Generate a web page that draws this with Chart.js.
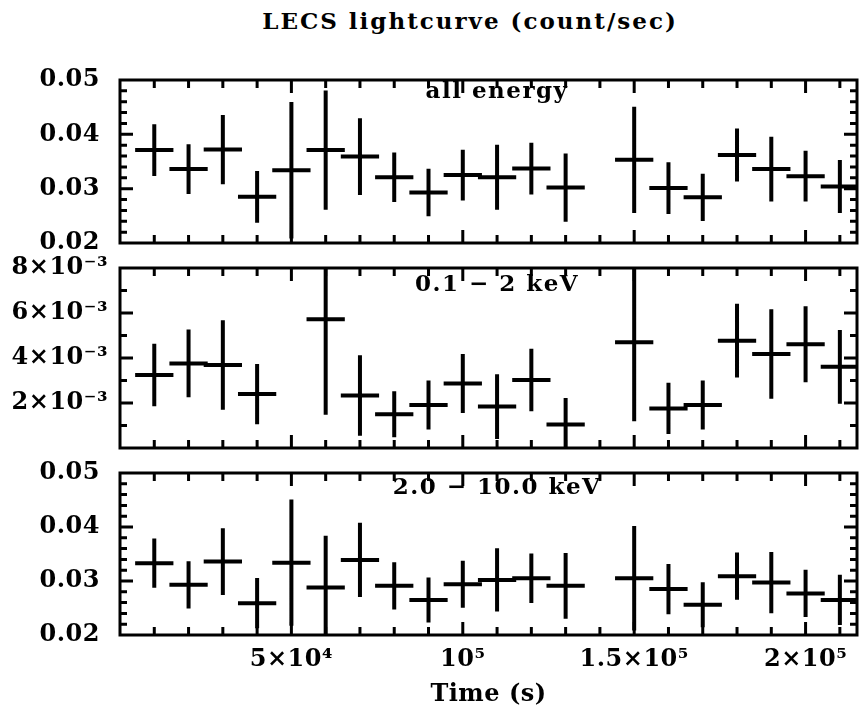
<!DOCTYPE html>
<html>
<head>
<meta charset="utf-8">
<script src="https://cdn.jsdelivr.net/npm/chart.js@4/dist/chart.umd.min.js"></script>
<style>
  body { margin: 0; background: #fff; }
  #wrap { position: relative; width: 864px; height: 720px; overflow: hidden; background: #fff; }
  #wrap canvas { position: absolute; left: 0; }
  .lbl { position: absolute; font: bold 23px "DejaVu Serif", serif; line-height: 23px; letter-spacing: 1.5px;
         color: #000; white-space: nowrap; transform: translateX(-50%); }
</style>
</head>
<body>
<div id="wrap">
  <div class="lbl" style="left:470px; top:9px; letter-spacing:2px;">LECS lightcurve (count/sec)</div>
  <canvas id="allChart" width="864" height="250" style="top:0px"></canvas>
  <canvas id="softChart" width="864" height="200" style="top:250px"></canvas>
  <canvas id="hardChart" width="864" height="270" style="top:450px"></canvas>
  <div class="lbl" style="left:497px; top:78px;">all energy</div>
  <div class="lbl" style="left:497px; top:271px;">0.1 − 2 keV</div>
  <div class="lbl" style="left:497px; top:474px;">2.0 − 10.0 keV</div>
</div>
<script>
// time bin centres (s); bin at 1.4e5 has no data
const timeBins = [10000, 20000, 30000, 40000, 50000, 60000, 70000, 80000, 90000, 100000,
  110000, 120000, 130000, 150000, 160000, 170000, 180000, 190000, 200000, 210000];
const binHalf = 5000;

// all energy
const allRate = [0.0371, 0.0336, 0.0372, 0.0285, 0.0334, 0.0371, 0.0359, 0.0321, 0.0293, 0.0325,
  0.0321, 0.0337, 0.0302, 0.0353, 0.0301, 0.0284, 0.0362, 0.0336, 0.0323, 0.0304];
const allErr = [0.0044, 0.0042, 0.0060, 0.0044, 0.0122, 0.0106, 0.0067, 0.0042, 0.0040, 0.0043,
  0.0056, 0.0044, 0.0059, 0.0094, 0.0044, 0.0040, 0.0045, 0.0056, 0.0043, 0.0045];

// 0.1 - 2 keV
const softRate = [3.24e-3, 3.76e-3, 3.69e-3, 2.40e-3, null, 5.72e-3, 2.33e-3, 1.50e-3, 1.91e-3, 2.87e-3,
  1.84e-3, 3.02e-3, 1.05e-3, 4.70e-3, 1.76e-3, 1.91e-3, 4.77e-3, 4.18e-3, 4.61e-3, 3.61e-3];
const softErr = [1.30e-3, 1.42e-3, 1.90e-3, 1.25e-3, null, 4.15e-3, 1.70e-3, 0.93e-3, 1.00e-3, 1.22e-3,
  1.35e-3, 1.30e-3, 1.08e-3, 3.42e-3, 1.05e-3, 1.00e-3, 1.55e-3, 1.90e-3, 1.60e-3, 1.55e-3];

// 2.0 - 10.0 keV
const hardRate = [0.0333, 0.0293, 0.0336, 0.0259, 0.0334, 0.0288, 0.0339, 0.0291, 0.0265, 0.0294,
  0.0302, 0.0305, 0.0291, 0.0305, 0.0285, 0.0256, 0.0309, 0.0297, 0.0277, 0.0265];
const hardErr = [0.0042, 0.0040, 0.0058, 0.0043, 0.0113, 0.0092, 0.0065, 0.0040, 0.0038, 0.0040,
  0.0055, 0.0042, 0.0057, 0.0093, 0.0043, 0.0038, 0.0040, 0.0053, 0.0040, 0.0043];

// tick labels
const countTicks = [0.02, 0.03, 0.04, 0.05];
const countTickLabels = ['0.02', '0.03', '0.04', '0.05'];
const softTicks = [0.002, 0.004, 0.006, 0.008];
const softTickLabels = ['2×10⁻³', '4×10⁻³', '6×10⁻³', '8×10⁻³'];
const timeTicks = [50000, 100000, 150000, 200000];
const timeTickLabels = ['5×10⁴', '10⁵', '1.5×10⁵', '2×10⁵'];

const FONT = { family: '"DejaVu Serif", serif', weight: 'bold', size: 24 };

// crosses as line segments separated by gaps
function crosses(rate, err) {
  const pts = [];
  timeBins.forEach((t, i) => {
    if (rate[i] == null) return;
    pts.push({ x: t, y: rate[i] - err[i] }, { x: t, y: rate[i] + err[i] }, { x: t, y: null });
    pts.push({ x: t - binHalf, y: rate[i] }, { x: t + binHalf, y: rate[i] }, { x: t + binHalf, y: null });
  });
  return pts;
}

// box frame with inward ticks on all four sides
const frameTicks = {
  id: 'frameTicks',
  beforeDraw(chart) { chart.ctx.letterSpacing = '0.5px'; },
  afterDraw(chart, args, opts) {
    const { ctx, chartArea: a, scales: { x, y } } = chart;
    ctx.save();
    ctx.strokeStyle = '#000';
    ctx.lineWidth = 3;
    ctx.beginPath();
    for (let k = 1; k * 10000 < x.max; k++) {
      const px = x.getPixelForValue(k * 10000);
      const len = k % 5 === 0 ? 13 : 8;
      ctx.moveTo(px, a.top); ctx.lineTo(px, a.top + len);
      ctx.moveTo(px, a.bottom); ctx.lineTo(px, a.bottom - len);
    }
    const n = Math.round((y.max - y.min) / opts.minor);
    const every = Math.round(opts.major / opts.minor);
    for (let k = 1; k < n; k++) {
      const py = y.getPixelForValue(y.min + k * opts.minor);
      const len = k % every === 0 ? 13 : 7;
      ctx.moveTo(a.left, py); ctx.lineTo(a.left + len, py);
      ctx.moveTo(a.right, py); ctx.lineTo(a.right - len, py);
    }
    ctx.stroke();
    ctx.strokeRect(a.left, a.top, a.right - a.left, a.bottom - a.top);
    ctx.restore();
  }
};

function makePanel(id, rate, err, yMin, yMax, yTicks, yLabels, yPad, minor, major, padding, showX) {
  return new Chart(document.getElementById(id), {
    type: 'line',
    data: {
      datasets: [{
        data: crosses(rate, err),
        borderColor: '#000',
        borderWidth: 4,
        borderCapStyle: 'square',
        pointRadius: 0,
        spanGaps: false,
        tension: 0
      }]
    },
    options: {
      responsive: false,
      animation: false,
      layout: { padding: padding },
      plugins: {
        legend: { display: false },
        tooltip: { enabled: false },
        frameTicks: { minor: minor, major: major }
      },
      scales: {
        x: {
          type: 'linear',
          min: 0,
          max: 215000,
          display: showX,
          grid: { display: false, drawTicks: false },
          border: { display: false },
          afterBuildTicks: (s) => { s.ticks = timeTicks.map(v => ({ value: v })); },
          ticks: {
            font: FONT, color: '#000', padding: 10, maxRotation: 0, autoSkip: false,
            callback: (v) => timeTickLabels[timeTicks.indexOf(v)]
          },
          title: { display: true, text: 'Time (s)', font: FONT, color: '#000', padding: { top: 0, bottom: 11 } },
          afterFit: (s) => {
            if (showX) s.height = 85;
            s.paddingLeft = 0; s.paddingRight = 0;
          }
        },
        y: {
          min: yMin,
          max: yMax,
          grid: { display: false, drawTicks: false },
          border: { display: false },
          afterBuildTicks: (s) => { s.ticks = yTicks.map(v => ({ value: v })); },
          ticks: {
            font: FONT, color: '#000', padding: yPad, autoSkip: false,
            callback: (v) => yLabels[yTicks.indexOf(v)]
          },
          afterFit: (s) => { s.width = 120; s.paddingTop = 0; s.paddingBottom = 0; }
        }
      }
    },
    plugins: [frameTicks]
  });
}

makePanel('allChart', allRate, allErr, 0.02, 0.05, countTicks, countTickLabels, 20, 0.002, 0.01,
  { left: 0, right: 7, top: 80, bottom: 7 }, false);
makePanel('softChart', softRate, softErr, 0, 0.008, softTicks, softTickLabels, 12, 0.001, 0.002,
  { left: 0, right: 7, top: 18, bottom: 2 }, false);
makePanel('hardChart', hardRate, hardErr, 0.02, 0.05, countTicks, countTickLabels, 20, 0.002, 0.01,
  { left: 0, right: 7, top: 23, bottom: 0 }, true);
</script>
</body>
</html>
